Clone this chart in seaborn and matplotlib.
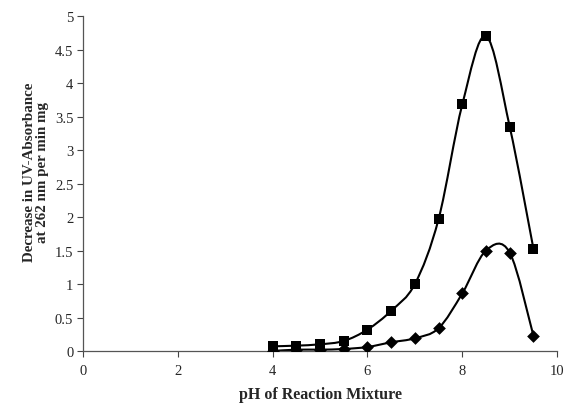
import numpy as np
import pandas as pd
import seaborn as sns
import matplotlib.pyplot as plt
from matplotlib.path import Path
from matplotlib.patches import PathPatch

# data
ph = [4, 4.5, 5, 5.5, 6, 6.5, 7, 7.5, 8, 8.5, 9, 9.5]
squares = [0.07, 0.08, 0.10, 0.15, 0.32, 0.60, 1.00, 1.97, 3.68, 4.70, 3.35, 1.53]
diamonds = [0.00, 0.02, 0.02, 0.03, 0.06, 0.13, 0.19, 0.34, 0.86, 1.50, 1.47, 0.23]

x_ticks = [0, 2, 4, 6, 8, 10]
y_ticks = [0, 0.5, 1, 1.5, 2, 2.5, 3, 3.5, 4, 4.5, 5]
y_tick_labels = ['0', '0.5', '1', '1.5', '2', '2.5', '3', '3.5', '4', '4.5', '5']


def smooth_path(xs, ys):
    # spreadsheet style smoothed line: cubic bezier per segment (catmull-rom)
    pts = np.column_stack([xs, ys]).astype(float)
    n = len(pts)
    verts = [pts[0]]
    codes = [Path.MOVETO]
    for i in range(n - 1):
        p0 = pts[i - 1] if i > 0 else pts[i]
        p1 = pts[i]
        p2 = pts[i + 1]
        p3 = pts[i + 2] if i + 2 < n else pts[i + 1]
        c1 = p1 + (p2 - p0) / 6.0
        c2 = p2 - (p3 - p1) / 6.0
        verts += [c1, c2, p2]
        codes += [Path.CURVE4] * 3
    return Path(verts, codes)


def main():
    sns.set_theme(style="ticks")
    plt.rcParams['font.family'] = ['Liberation Serif', 'DejaVu Serif']

    df = pd.DataFrame({'ph': ph, 'squares': squares, 'diamonds': diamonds})

    fig = plt.figure(figsize=(5.65, 4.06), dpi=100)
    ax = fig.add_axes([0.147, 0.133, 0.839, 0.825])

    for col in ['squares', 'diamonds']:
        ax.add_patch(PathPatch(smooth_path(df['ph'], df[col]), facecolor='none',
                               edgecolor='black', lw=1.5, zorder=2))

    sns.scatterplot(data=df, x='ph', y='squares', marker='s', s=60, color='black',
                    edgecolor='black', linewidth=0, ax=ax, zorder=3)
    sns.scatterplot(data=df, x='ph', y='diamonds', marker='D', s=42, color='black',
                    edgecolor='black', linewidth=0, ax=ax, zorder=3)

    ax.set_xlim(0, 10)
    ax.set_ylim(0, 5)
    ax.set_xticks(x_ticks)
    ax.set_yticks(y_ticks)
    ax.set_yticklabels(y_tick_labels)
    ax.tick_params(axis='both', labelsize=10.5, length=4, width=0.8, color='#444444',
                   direction='out')
    ax.tick_params(axis='x', pad=5)
    ax.tick_params(axis='y', pad=3)
    for side in ['top', 'right']:
        ax.spines[side].set_visible(False)
    for side in ['left', 'bottom']:
        ax.spines[side].set_color('#555555')
        ax.spines[side].set_linewidth(0.9)

    ax.set_xlabel('pH of Reaction Mixture', fontsize=11.5, fontweight='bold', labelpad=7)
    ax.set_ylabel('Decrease in UV-Absorbance\nat 262 nm per min mg', fontsize=10.8,
                  fontweight='bold', labelpad=4, linespacing=1.05)
    ax.yaxis.label.set_y(0.535)

    fig.savefig('out.png', dpi=100)
    plt.close(fig)


if __name__ == "__main__":
    main()
